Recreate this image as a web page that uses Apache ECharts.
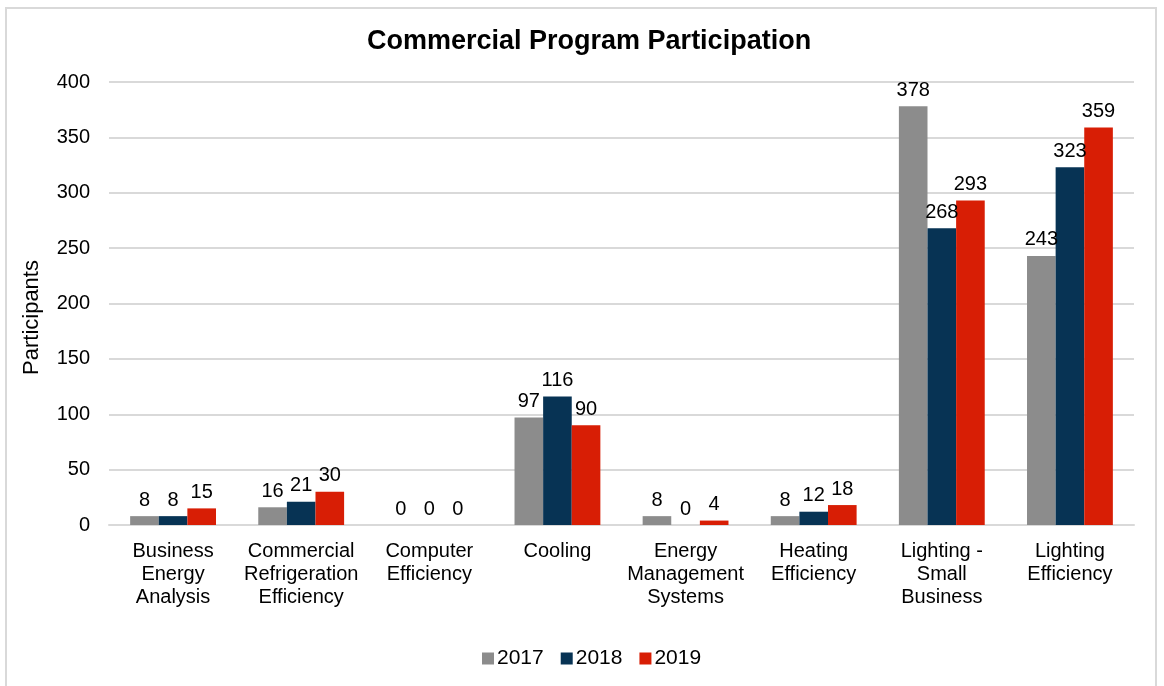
<!DOCTYPE html>
<html>
<head>
<meta charset="utf-8">
<script src="https://cdn.jsdelivr.net/npm/echarts@6/dist/echarts.min.js"></script>
<style>
  html, body { margin: 0; padding: 0; background: #fff; }
  .frame {
    position: absolute; left: 5px; top: 7px; width: 1152px; height: 690px;
    border: 2px solid #d9d9d9; box-sizing: border-box;
  }
  #chart { position: absolute; left: 0; top: 0; width: 1164px; height: 686px; }
</style>
</head>
<body>
<div class="frame"></div>
<div id="chart"></div>
<script>
const categories = [
  'Business\nEnergy\nAnalysis',
  'Commercial\nRefrigeration\nEfficiency',
  'Computer\nEfficiency',
  'Cooling',
  'Energy\nManagement\nSystems',
  'Heating\nEfficiency',
  'Lighting -\nSmall\nBusiness',
  'Lighting\nEfficiency'
]
const years = ['2017', '2018', '2019']
const values2017 = [8, 16, 0, 97, 8, 8, 378, 243]
const values2018 = [8, 21, 0, 116, 0, 12, 268, 323]
const values2019 = [15, 30, 0, 90, 4, 18, 293, 359]
const colors = ['#8c8c8c', '#073354', '#d81e05']
const yTicks = { min: 0, max: 400, interval: 50 }

const chart = echarts.init(document.getElementById('chart'))
const font = 'Liberation Sans, Arial, sans-serif'

const makeSeries = (name, data, i) => ({
  name,
  type: 'bar',
  data,
  barGap: '0%',
  barCategoryGap: '33%',
  itemStyle: { color: colors[i] },
  label: {
    show: true,
    position: 'top',
    distance: 6,
    color: '#000',
    fontFamily: font,
    fontSize: 20
  }
})

chart.setOption({
  animation: false,
  textStyle: { fontFamily: font },
  title: {
    text: 'Commercial Program Participation',
    left: 362,
    top: 23,
    textStyle: { fontFamily: font, fontSize: 27, fontWeight: 'bold', color: '#000' }
  },
  legend: {
    data: years,
    bottom: 12,
    left: 477,
    itemWidth: 12,
    itemHeight: 12,
    itemGap: 17,
    icon: 'rect',
    textStyle: { fontFamily: font, fontSize: 21, color: '#000', padding: [0, 0, 0, -2] }
  },
  grid: { left: 109, right: 30, top: 82, bottom: 161 },
  xAxis: {
    type: 'category',
    data: categories,
    axisLine: { lineStyle: { color: '#d9d9d9', width: 2 } },
    axisTick: { show: false },
    axisLabel: {
      color: '#000',
      fontFamily: font,
      fontSize: 20,
      lineHeight: 23,
      margin: 15,
      interval: 0
    }
  },
  yAxis: {
    type: 'value',
    min: yTicks.min,
    max: yTicks.max,
    interval: yTicks.interval,
    name: 'Participants',
    nameLocation: 'middle',
    nameGap: 66,
    nameTextStyle: { fontFamily: font, fontSize: 22, color: '#000', padding: [0, 28, 0, 0] },
    axisLine: { show: false },
    axisTick: { show: false },
    axisLabel: { color: '#000', fontFamily: font, fontSize: 20, margin: 19 },
    splitLine: { lineStyle: { color: '#d9d9d9', width: 2 } }
  },
  series: [
    makeSeries(years[0], values2017, 0),
    makeSeries(years[1], values2018, 1),
    makeSeries(years[2], values2019, 2)
  ]
})
</script>
</body>
</html>
